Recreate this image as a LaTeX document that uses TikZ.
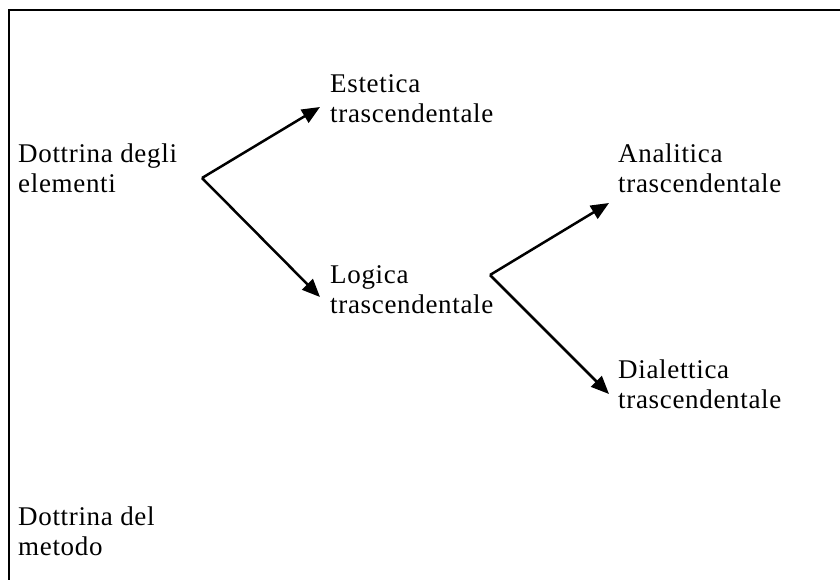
\documentclass[tikz,border=0pt]{standalone}
\usepackage{fontspec}
\setmainfont{Liberation Serif}[LetterSpace=2.5]
\usetikzlibrary{arrows.meta}
\begin{document}
\begin{tikzpicture}[x=1pt,y=-1pt,
  lbl/.style={anchor=base west,inner sep=0pt,align=left,font=\fontsize{27}{30}\selectfont},
  arr/.style={line width=2.5pt,-{Triangle[length=18pt,width=15pt]}},
  frame/.style={line width=2pt}]
\useasboundingbox (0,0) rectangle (840,580);
\draw[frame] (840,10) -- (9,10) -- (9,580);
\node[lbl] (dott) at (18,193) {Dottrina degli\\elementi};
\node[lbl] (est) at (330,123) {Estetica\\trascendentale};
\node[lbl] (log) at (330,313) {Logica\\trascendentale};
\node[lbl] (ana) at (618,193) {Analitica\\trascendentale};
\node[lbl] (dia) at (618,408) {Dialettica\\trascendentale};
\node[lbl] (met) at (18,555) {Dottrina del\\metodo};
\coordinate (f1) at (202,178);
\coordinate (t1) at (320,107);
\coordinate (t2) at (320,297);
\coordinate (f2) at (490,275);
\coordinate (t3) at (609,203);
\coordinate (t4) at (609,394);
\draw[arr] (f1) -- (t1);
\draw[arr] (f1) -- (t2);
\draw[arr] (f2) -- (t3);
\draw[arr] (f2) -- (t4);
\end{tikzpicture}
\end{document}
